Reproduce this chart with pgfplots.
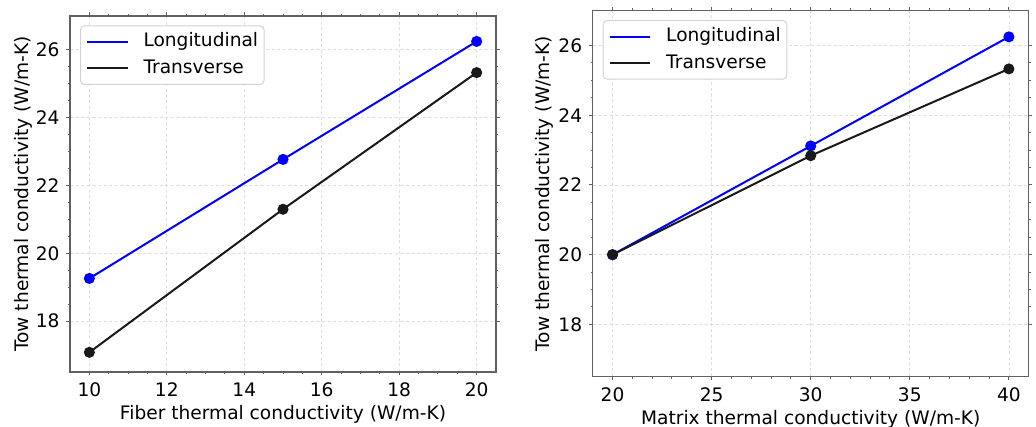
\documentclass[border=0pt]{standalone}
\usepackage{pgfplots}
\pgfplotsset{compat=1.18}
\usepackage{fontspec}
\setmainfont{DejaVu Sans}

\definecolor{framegray}{gray}{0.38}
\definecolor{lineblack}{gray}{0.1}
\definecolor{lineblue}{rgb}{0,0,1}

\newcommand{\tickfont}{\fontsize{9.3}{11}\selectfont}

\pgfplotsset{
  tow/.style={
    scale only axis,
    axis line style={framegray, line width=0.7pt},
    tick style={framegray, line width=0.5pt},
    tick align=outside,
    major tick length=1.75pt,
    minor tick length=1.1pt,
    grid=major,
    major grid style={gray!25, dash pattern=on 1.6pt off 1.2pt, line width=0.4pt},
    ymin=16.5, ymax=27,
    ytick={18,20,...,26},
    minor y tick num=3,
    /pgf/number format/assume math mode=true,
    ticklabel style={font=\tickfont},
    label style={font=\tickfont},
    ylabel={Tow thermal conductivity (W/m-K)},
    ylabel style={at={(axis description cs:-0.11,0.5)}, anchor=center, rotate=0},
    xlabel style={at={(axis description cs:0.5,0)}, anchor=north, inner sep=0pt, yshift=-16.5pt},
    legend cell align=left,
    legend image code/.code={\draw[#1, mark=none] (0pt,0pt) -- (20pt,0pt);},
    legend style={at={(0,1)}, anchor=north west, xshift=5pt, yshift=-4.7pt,
      draw=gray!35, rounded corners=2pt, line width=0.5pt, font=\tickfont,
      inner xsep=3pt, inner ysep=3.5pt, row sep=4.3pt, column sep=7.5pt,
      nodes={inner sep=0pt, text height=7pt, text depth=2pt}},
  },
  lon/.style={lineblue, line width=1pt, mark=*, mark size=2.25pt, mark options={solid, fill=lineblue}},
  tra/.style={lineblack, line width=1pt, mark=*, mark size=2.25pt, mark options={solid, fill=lineblack}},
}

\begin{document}
\begin{tikzpicture}
\path[use as bounding box] (0,0) rectangle (518pt,213.5pt);

\begin{axis}[tow,
  at={(35pt,27.5pt)}, anchor=south west,
  width=213pt, height=178pt,
  xmin=9.5, xmax=20.5,
  xtick={10,12,...,20},
  minor x tick num=3,
  xlabel={Fiber thermal conductivity (W/m-K)},
]
\addplot[lon] coordinates {(10,19.26) (15,22.77) (20,26.25)};
\addlegendentry{Longitudinal}
\addplot[tra] coordinates {(10,17.08) (15,21.30) (20,25.33)};
\addlegendentry{Transverse}
\end{axis}

\begin{axis}[tow,
  at={(296.35pt,25.15pt)}, anchor=south west,
  width=218pt, height=183pt,
  xmin=19, xmax=41,
  xtick={20,25,...,40},
  minor x tick num=4,
  xlabel={Matrix thermal conductivity (W/m-K)},
]
\addplot[lon] coordinates {(20,20.0) (30,23.12) (40,26.25)};
\addlegendentry{Longitudinal}
\addplot[tra] coordinates {(20,20.0) (30,22.84) (40,25.33)};
\addlegendentry{Transverse}
\end{axis}
\end{tikzpicture}
\end{document}
